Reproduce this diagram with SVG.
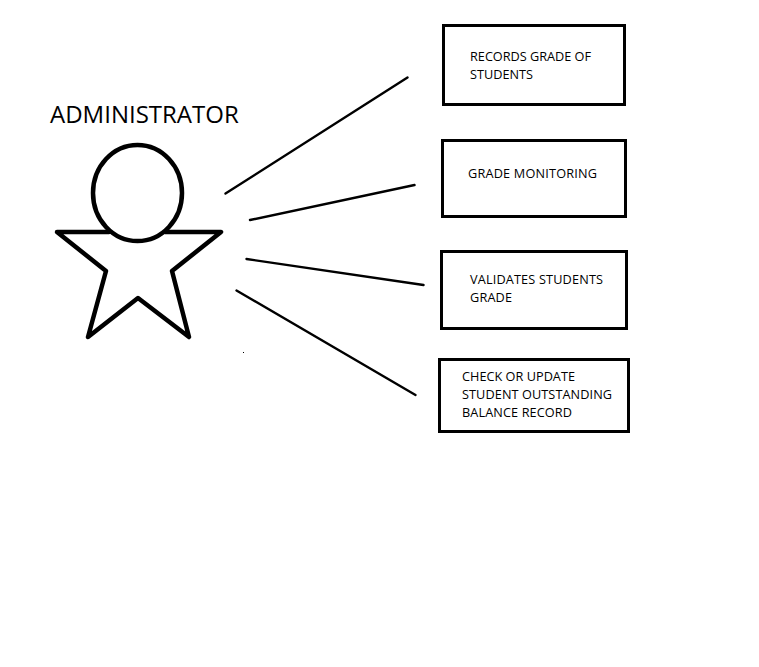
<svg xmlns="http://www.w3.org/2000/svg" width="759" height="667" viewBox="0 0 759 667">
<style>
.b{fill:#fff;stroke:#000;stroke-width:3}
.t{font-family:"Open Sans","Liberation Sans",sans-serif;font-size:12.7px;fill:#000}
.c{stroke:#000;stroke-width:2.4;fill:none;stroke-linecap:round}
.a{fill:none;stroke:#000;stroke-width:4.500;stroke-linejoin:round;stroke-linecap:round}
</style>
<rect width="759" height="667" fill="#fff"/>
<g id="actor">
<path class="a" d="M109 232H57L106 271L88 337L138 298L189 337L172 271L221 232H165"/>
<ellipse class="a" cx="137.500" cy="193" rx="44.500" ry="48"/>
<text x="50" y="123" style="font-family:'Open Sans','Liberation Sans',sans-serif;font-size:24px">ADMINISTRATOR</text>
<rect x="243" y="352" width="1" height="1" fill="#000"/>
</g>
<g id="connectors">
<line class="c" x1="225.500" y1="193.500" x2="407.500" y2="77.500"/>
<line class="c" x1="250" y1="220" x2="414.500" y2="185"/>
<line class="c" x1="246.500" y1="259" x2="423.500" y2="285"/>
<line class="c" x1="236.500" y1="290.500" x2="415.500" y2="395"/>
</g>
<g id="n1"><rect class="b" x="443.500" y="25.500" width="181" height="79"/>
<text class="t" x="470" y="61" textLength="121">RECORDS GRADE OF</text><text class="t" x="470" y="79" textLength="63">STUDENTS</text></g>
<g id="n2"><rect class="b" x="442.500" y="140.500" width="183" height="76"/>
<text class="t" x="468" y="178" textLength="129">GRADE MONITORING</text></g>
<g id="n3"><rect class="b" x="441.500" y="251.500" width="185" height="77"/>
<text class="t" x="470" y="284" textLength="133">VALIDATES STUDENTS</text><text class="t" x="470" y="302" textLength="42">GRADE</text></g>
<g id="n4"><rect class="b" x="439.500" y="359.500" width="189" height="72"/>
<text class="t" x="462" y="381" textLength="113">CHECK OR UPDATE</text><text class="t" x="462" y="399" textLength="150">STUDENT OUTSTANDING</text><text class="t" x="462" y="417" textLength="110">BALANCE RECORD</text></g>
</svg>
